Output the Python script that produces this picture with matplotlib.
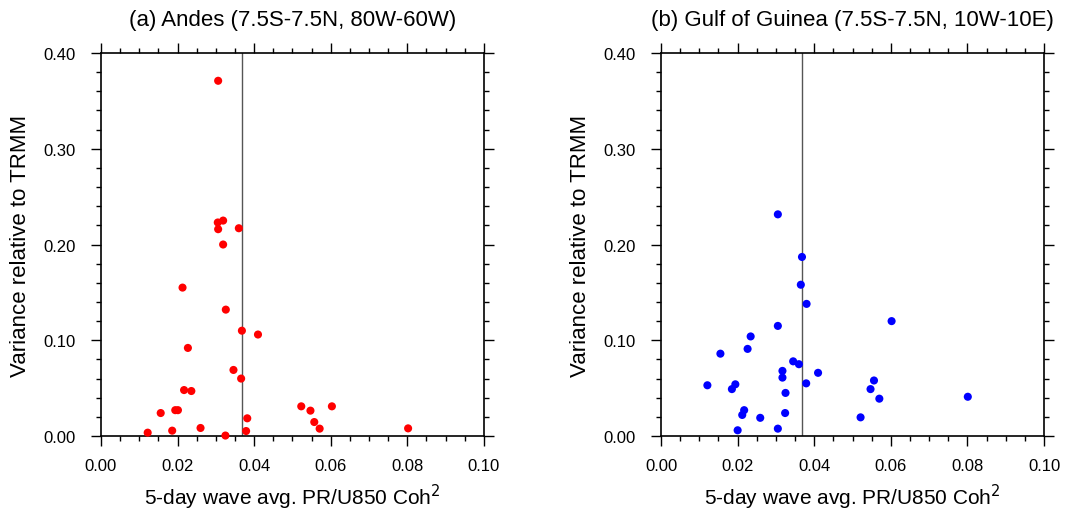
"""
Scatter of variance relative to TRMM vs 5-day wave PR/U850 coherence squared.
"""

import matplotlib
matplotlib.use('Agg')
import matplotlib.pyplot as plt
from matplotlib.ticker import MultipleLocator, FormatStrFormatter

plt.rcParams['font.family'] = ['Liberation Sans', 'DejaVu Sans']

# Panel (a): Andes
andes_coh = [0.0306, 0.0305, 0.0319, 0.0306, 0.0360, 0.0319, 0.0213, 0.0326,
             0.0368, 0.0410, 0.0227, 0.0346, 0.0366, 0.0217, 0.0236, 0.0523,
             0.0547, 0.0603, 0.0156, 0.0194, 0.0201, 0.0382, 0.0557, 0.0122,
             0.0186, 0.0260, 0.0325, 0.0379, 0.0571, 0.0802]
andes_var = [0.371, 0.223, 0.225, 0.216, 0.217, 0.200, 0.155, 0.132,
             0.110, 0.106, 0.092, 0.069, 0.060, 0.048, 0.047, 0.031,
             0.0265, 0.031, 0.024, 0.027, 0.027, 0.0185, 0.0146, 0.0035,
             0.0056, 0.0084, 0.0005, 0.0052, 0.0077, 0.0080]

# Panel (b): Gulf of Guinea
guinea_coh = [0.0305, 0.0368, 0.0365, 0.0380, 0.0602, 0.0305, 0.0234, 0.0226,
              0.0155, 0.0345, 0.0360, 0.0317, 0.0410, 0.0317, 0.0556, 0.0379,
              0.0121, 0.0194, 0.0185, 0.0547, 0.0325, 0.0570, 0.0801, 0.0217,
              0.0212, 0.0324, 0.0259, 0.0521, 0.0200, 0.0305]
guinea_var = [0.2315, 0.187, 0.158, 0.138, 0.120, 0.115, 0.104, 0.091,
              0.086, 0.078, 0.075, 0.068, 0.066, 0.061, 0.058, 0.055,
              0.053, 0.054, 0.049, 0.049, 0.045, 0.039, 0.041, 0.027,
              0.022, 0.024, 0.019, 0.0195, 0.006, 0.0077]

# Reference line (mean coherence)
ref_coh = 0.0368

titles = ['(a) Andes (7.5S-7.5N, 80W-60W)',
          '(b) Gulf of Guinea (7.5S-7.5N, 10W-10E)']

fig = plt.figure(figsize=(10.65, 5.10), dpi=100)
ax_a = fig.add_axes([0.0948, 0.1431, 0.3596, 0.751])
ax_b = fig.add_axes([0.6207, 0.1431, 0.3596, 0.751])

panels = [(ax_a, andes_coh, andes_var, 'red'),
          (ax_b, guinea_coh, guinea_var, 'blue')]

for (ax, xs, ys, color), title in zip(panels, titles):
    ax.axvline(ref_coh, color='#555555', lw=1.0, zorder=1)
    ax.scatter(xs, ys, s=34, color=color, edgecolors='none', zorder=3,
               clip_on=False)
    ax.set_xlim(0.0, 0.10)
    ax.set_ylim(0.0, 0.40)
    ax.xaxis.set_major_locator(MultipleLocator(0.02))
    ax.xaxis.set_minor_locator(MultipleLocator(0.005))
    ax.yaxis.set_major_locator(MultipleLocator(0.10))
    ax.yaxis.set_minor_locator(MultipleLocator(0.02))
    ax.xaxis.set_major_formatter(FormatStrFormatter('%.2f'))
    ax.yaxis.set_major_formatter(FormatStrFormatter('%.2f'))
    ax.tick_params(which='both', direction='out', top=True, right=True,
                   width=1.0, labelsize=12)
    ax.tick_params(which='major', length=7, pad=9)
    ax.tick_params(axis='y', which='major', pad=11)
    ax.tick_params(which='minor', length=3.5)
    for spine in ax.spines.values():
        spine.set_linewidth(1.2)
    ax.set_title(title, fontsize=16, pad=20)
    ax.set_xlabel('5-day wave avg. PR/U850 Coh$^2$', fontsize=15, labelpad=6)
    ax.set_ylabel('Variance relative to TRMM', fontsize=16, labelpad=9)

fig.savefig('out.png', dpi=100)
plt.close(fig)
